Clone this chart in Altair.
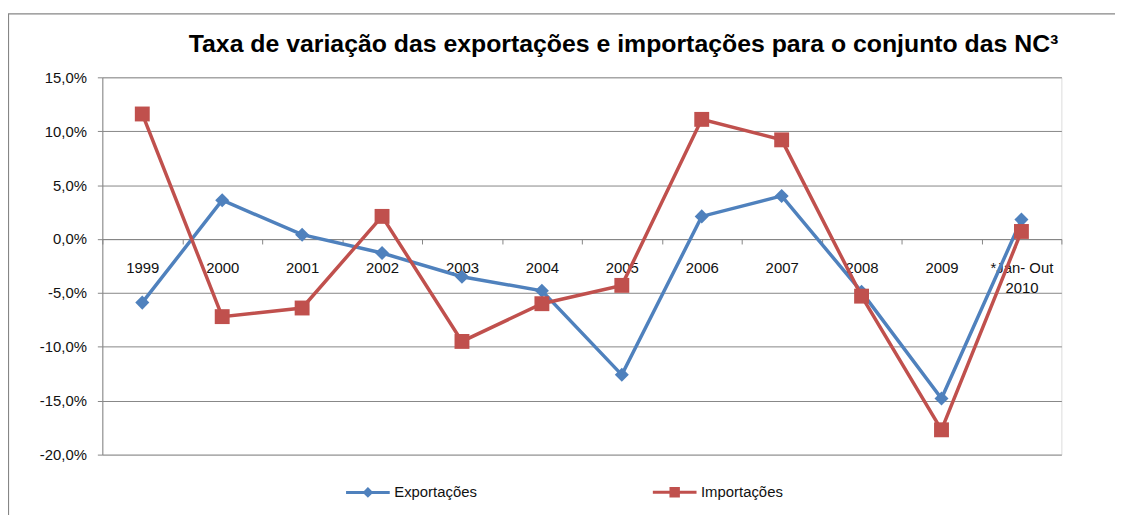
import altair as alt
import pandas as pd

categories = ["1999", "2000", "2001", "2002", "2003", "2004", "2005", "2006",
              "2007", "2008", "2009", "*Jan- Out|2010"]
exportacoes = [-5.9, 3.6, 0.4, -1.3, -3.5, -4.8, -12.6, 2.1, 4.0, -4.9, -14.8, 1.8]
importacoes = [11.6, -7.2, -6.4, 2.1, -9.5, -6.0, -4.3, 11.1, 9.2, -5.3, -17.7, 0.7]
series_names = ["Exportações", "Importações"]
series_colors = ["#4F81BD", "#C0504D"]
y_ticks = [-0.20, -0.15, -0.10, -0.05, 0.0, 0.05, 0.10, 0.15]
title_text = "Taxa de variação das exportações e importações para o conjunto das NC³"

rows = []
for c, e, i in zip(categories, exportacoes, importacoes):
    rows.append({"ano": c, "serie": series_names[0], "valor": e / 100})
    rows.append({"ano": c, "serie": series_names[1], "valor": i / 100})
df = pd.DataFrame(rows)

W, H = 966, 380
FONT = "Liberation Sans"
GRAY = "#868686"

x_enc = alt.X("ano:N", sort=categories, title=None,
              scale=alt.Scale(paddingInner=0, paddingOuter=0),
              axis=alt.Axis(orient="bottom", offset=-H * 20 / 35, labelAngle=0,
                            labelExpr="split(datum.label, '|')",
                            tickBand="extent", tickSize=5, tickColor=GRAY,
                            domainColor=GRAY, labelPadding=17, labelFontSize=15,
                            labelLineHeight=20, labelFont=FONT, labelColor="#111111",
                            grid=False))
y_enc = alt.Y("valor:Q", title=None,
              scale=alt.Scale(domain=[-0.2, 0.15], nice=False, zero=False),
              axis=alt.Axis(values=y_ticks,
                            labelExpr="replace(replace(format(datum.value, '.1%'), '.', ','), '\u2212', '-')",
                            grid=True, gridColor=GRAY, domainColor=GRAY, tickColor=GRAY,
                            tickSize=5, labelPadding=11, labelFontSize=15, labelFont=FONT,
                            labelColor="#111111"))

base = alt.Chart(df)
layers = []
shapes = ["diamond", "square"]
sizes = [200, 225]
for name, col, shp, sz in zip(series_names, series_colors, shapes, sizes):
    sub = base.transform_filter(alt.datum.serie == name)
    layers.append(sub.mark_line(color=col, strokeWidth=3.5).encode(x=x_enc, y=y_enc))
    layers.append(sub.mark_point(color=col, shape=shp, size=sz, filled=True, opacity=1)
                  .encode(x=x_enc, y=y_enc))

# legend-only layer (marks placed outside the canvas)
leg_paths = ["M-1,0L1,0M0,-0.15L0.15,0L0,0.15L-0.15,0Z",
             "M-1,0L1,0M-0.17,-0.17L0.17,-0.17L0.17,0.17L-0.17,0.17Z"]
legend_layer = base.mark_point(filled=True, strokeWidth=3, size=1936, opacity=1).encode(
    x=x_enc,
    y=alt.value(-2000),
    fill=alt.Fill("serie:N", scale=alt.Scale(domain=series_names, range=series_colors),
                  legend=alt.Legend(title=None, orient="none", legendX=244, legendY=394,
                                    direction="horizontal", symbolSize=1936,
                                    symbolStrokeWidth=3, symbolOpacity=1,
                                    labelFontSize=15, labelFont=FONT,
                                    labelColor="#111111", labelOffset=3,
                                    columnPadding=170, padding=0)),
    stroke=alt.Stroke("serie:N", scale=alt.Scale(domain=series_names, range=series_colors)),
    shape=alt.Shape("serie:N", scale=alt.Scale(domain=series_names, range=leg_paths)),
)

frame = alt.Chart(pd.DataFrame({"k": [0]})).mark_rect(
    fill=None, stroke=GRAY, strokeWidth=1.2).encode(
    x=alt.value(-94.5), x2=alt.value(W + 200), y=alt.value(-64), y2=alt.value(H + 200))

title = alt.Chart(pd.DataFrame({"t": [title_text]})).mark_text(
    font=FONT, fontSize=25, fontWeight="bold", color="#000000",
    align="center", baseline="alphabetic").encode(
    text="t:N", x=alt.value(525), y=alt.value(-26))

chart = alt.layer(frame, title, *layers, legend_layer).resolve_scale(
    fill="independent", stroke="independent", shape="independent"
).properties(
    width=W, height=H,
    autosize=alt.AutoSizeParams(type="none"),
    padding={"left": 95, "top": 68, "right": 54, "bottom": 59},
).configure_view(stroke=None).configure(background="white")

chart.save("out.html", embed_options={"renderer": "svg", "actions": False})
